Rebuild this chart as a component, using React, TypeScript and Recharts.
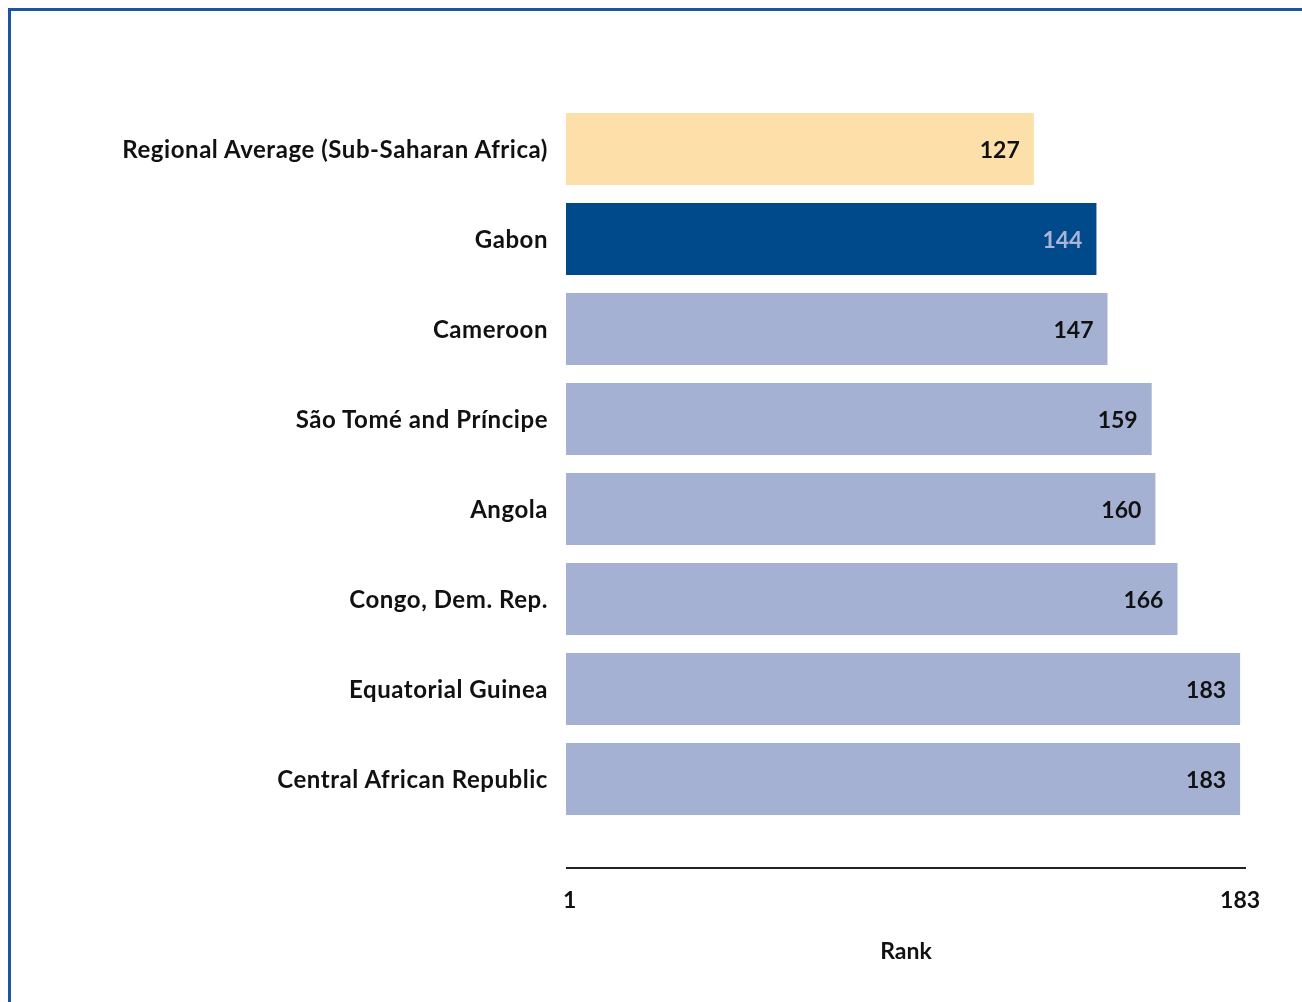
import { BarChart, Bar, XAxis, YAxis, Cell, LabelList } from "recharts";

const countries = [
  "Regional Average (Sub-Saharan Africa)",
  "Gabon",
  "Cameroon",
  "São Tomé and Príncipe",
  "Angola",
  "Congo, Dem. Rep.",
  "Equatorial Guinea",
  "Central African Republic",
];
const ranks = [127, 144, 147, 159, 160, 166, 183, 183];
const rankTicks = [1, 183];

const data = countries.map((name, i) => ({ name, rank: ranks[i] }));

const FONT = "Lato, 'Open Sans', sans-serif";
const AVG = "#fde0a9";
const FOCUS = "#004a8c";
const OTHER = "#a4b1d3";

const barColor = (name: string) =>
  name.startsWith("Regional") ? AVG : name === "Gabon" ? FOCUS : OTHER;

const renderValue = (props: any) => {
  const { x, y, width, height, value, index } = props;
  const isFocus = countries[index] === "Gabon";
  return (
    <text
      x={x + width - 14}
      y={y + height / 2}
      textAnchor="end"
      dominantBaseline="central"
      fontFamily={FONT}
      fontWeight={700}
      fontSize={23}
      fill={isFocus ? "#a9b4d6" : "#111"}
    >
      {value}
    </text>
  );
};

export default function App() {
  return (
    <div
      style={{
        position: "fixed",
        left: 8,
        top: 8,
        right: -20,
        bottom: -20,
        borderTop: "3px solid #1b55a0",
        borderLeft: "3px solid #1b55a0",
        overflow: "hidden",
      }}
    >
      <BarChart
        width={1280}
        height={980}
        data={data}
        layout="vertical"
        margin={{ top: 93, right: 45, bottom: 23, left: 0 }}
      >
        <XAxis
          type="number"
          dataKey="rank"
          domain={[0, 184.6]}
          ticks={rankTicks}
          height={100}
          axisLine={{ stroke: "#222", strokeWidth: 2 }}
          tickLine={false}
          tickSize={0}
          tickMargin={24}
          tick={{ fill: "#111", fontSize: 23, fontWeight: 700, fontFamily: FONT }}
          label={{
            value: "Rank",
            position: "insideBottom",
            offset: 9,
            fill: "#111",
            fontSize: 23,
            fontWeight: 700,
            fontFamily: FONT,
          }}
        />
        <YAxis
          type="category"
          dataKey="name"
          width={555}
          axisLine={false}
          tickLine={false}
          tickSize={0}
          tickMargin={18}
          padding={{ top: 0, bottom: 44 }}
          interval={0}
          tick={{
            fill: "#111",
            fontSize: 24,
            fontWeight: 700,
            fontFamily: FONT,
            letterSpacing: 0.55,
          }}
        />
        <Bar dataKey="rank" barSize={72} isAnimationActive={false}>
          {data.map((d) => (
            <Cell key={d.name} fill={barColor(d.name)} />
          ))}
          <LabelList dataKey="rank" content={renderValue} />
        </Bar>
      </BarChart>
    </div>
  );
}
